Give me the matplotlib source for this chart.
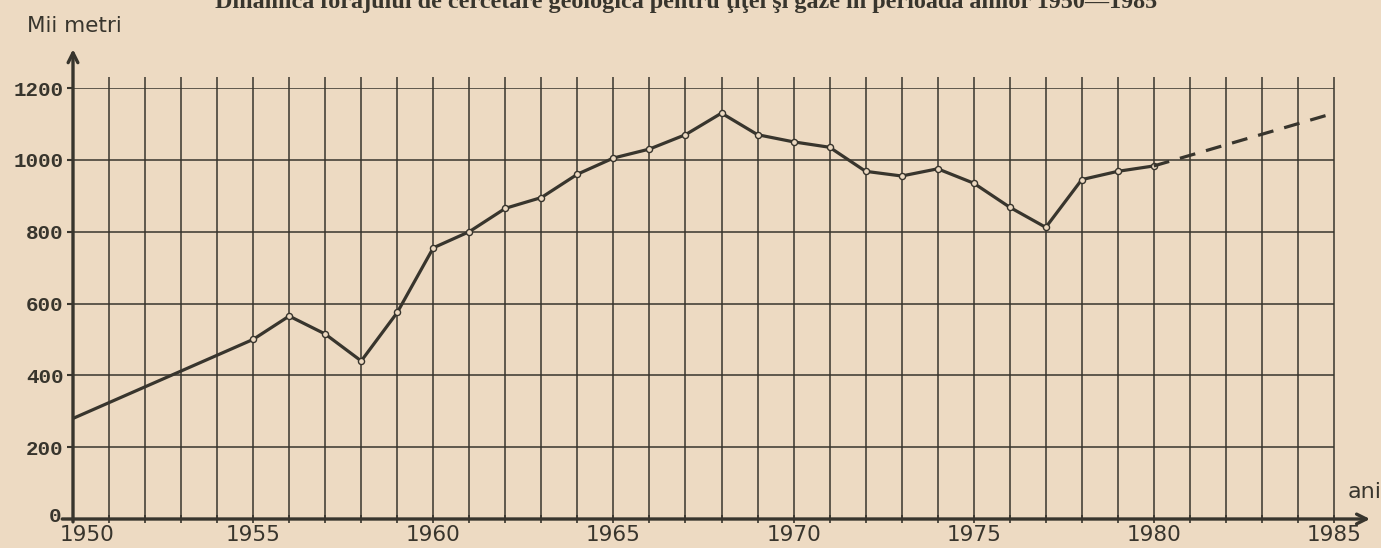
#!/usr/bin/env python
# -*- coding: utf-8 -*-
#####
import matplotlib
matplotlib.use('Agg')
import matplotlib.pyplot as plt
from matplotlib.transforms import ScaledTranslation
#####
# data (thousand metres drilled per year)
years = [1950, 1955, 1956, 1957, 1958, 1959, 1960, 1961, 1962, 1963, 1964, 1965,
	1966, 1967, 1968, 1969, 1970, 1971, 1972, 1973, 1974, 1975, 1976, 1977,
	1978, 1979, 1980]
values = [280, 500, 565, 515, 440, 575, 755, 800, 865, 895, 960, 1005,
	1030, 1070, 1130, 1070, 1050, 1035, 968, 955, 975, 935, 868, 812,
	945, 968, 983]
# forecast (dashed)
proj_years = [1980, 1985]
proj_values = [983, 1130]

grid_years = list(range(1951, 1986))
grid_levels = [200, 400, 600, 800, 1000, 1200]
xtick_years = [1950, 1955, 1960, 1965, 1970, 1975, 1980, 1985]
ytick_values = [0, 200, 400, 600, 800, 1000, 1200]

title = 'Dinamica forajului de cercetare geologică pentru ţiţei şi gaze în perioada anilor 1950—1985'
ylabel = 'Mii metri'
xlabel = 'ani'

paper = '#eddac2'
ink = '#38352d'

#####
# figure
#####
W, H = 1381, 548
fig = plt.figure(figsize=(W / 100, H / 100), dpi=100, facecolor=paper)
# axes box: 1950 -> 1985 horizontally, 0 -> 1200 vertically
ax = fig.add_axes([73 / W, (H - 519) / H, (1334 - 73) / W, (519 - 88) / H])
ax.set_facecolor(paper)
ax.set_xlim(1950, 1985)
ax.set_ylim(0, 1200)
for s in ax.spines.values():
	s.set_visible(False)

# grid drawn by hand (vertical lines poke above the top line)
ax.hlines(grid_levels, 1950, 1985, color=ink, lw=1.1, zorder=1)
ax.vlines(grid_years, 0, 1232, color=ink, lw=1.1, zorder=1, clip_on=False)

# axes with arrows
ax.annotate('', xy=(1950, 1308), xytext=(1950, -8), annotation_clip=False,
	arrowprops=dict(arrowstyle='->,head_length=0.7,head_width=0.35', lw=2.4, color=ink, shrinkA=0, shrinkB=0))
ax.annotate('', xy=(1986.0, 0), xytext=(1949.7, 0), annotation_clip=False,
	arrowprops=dict(arrowstyle='->,head_length=0.7,head_width=0.35', lw=2.4, color=ink, shrinkA=0, shrinkB=0))

# ticks
ax.set_xticks(list(range(1950, 1986)))
ax.set_xticklabels([str(y) if y in xtick_years else '' for y in range(1950, 1986)],
	family='DejaVu Sans', fontsize=15.5, color=ink)
ax.set_yticks(ytick_values)
ax.set_yticklabels([str(v) for v in ytick_values], family='Liberation Mono',
	fontweight='bold', fontsize=15, color=ink)
ax.tick_params(axis='x', direction='inout', length=6, width=1.2, color=ink, pad=1)
ax.tick_params(axis='y', direction='out', length=4, width=1.5, color=ink, pad=3)
# the first year label sits a little to the right of its tick, the "0" a bit higher
lbl = ax.get_xticklabels()[0]
lbl.set_transform(lbl.get_transform() + ScaledTranslation(14 / 100, 0, fig.dpi_scale_trans))
lbl = ax.get_yticklabels()[0]
lbl.set_transform(lbl.get_transform() + ScaledTranslation(-2 / 100, 5 / 100, fig.dpi_scale_trans))

# series
ax.plot(years, values, color=ink, lw=2.3, zorder=3, solid_joinstyle='round',
	marker='o', markersize=4.4, markerfacecolor=paper, markeredgecolor=ink,
	markeredgewidth=1.0, markevery=list(range(1, len(years))))
ax.plot(proj_years, proj_values, color=ink, lw=2.3, zorder=3, dashes=(5, 3.5))

# axis titles
ax.text(1950.05, 1372, ylabel, ha='center', va='center', family='DejaVu Sans',
	fontsize=15.5, color=ink, clip_on=False)
ax.text(1985.85, 75, xlabel, ha='center', va='center', family='DejaVu Sans',
	fontsize=16, color=ink, clip_on=False)

# title (cut off by the top of the scan)
fig.text(0.497, 1 - 8 / H, title, ha='center', va='baseline', family='Liberation Serif',
	fontweight='bold', fontsize=17.4, color=ink)

fig.savefig('out.png', dpi=100, facecolor=paper)
